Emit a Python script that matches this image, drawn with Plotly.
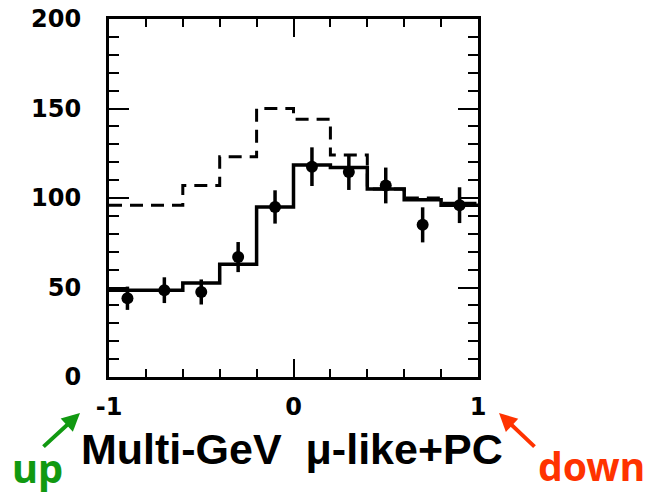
import plotly.graph_objects as go

# Bin edges of cos(zenith)
bin_edges = [-1.0, -0.8, -0.6, -0.4, -0.2, 0.0, 0.2, 0.4, 0.6, 0.8, 1.0]
bin_centers = [-0.9, -0.7, -0.5, -0.3, -0.1, 0.1, 0.3, 0.5, 0.7, 0.9]

# MC without oscillation (dashed)
mc_no_osc = [96, 96, 107, 123, 150, 144, 124, 105, 100, 97]
# MC with oscillation (solid)
mc_osc = [48.5, 48.5, 52.5, 63, 95, 118.5, 117, 105, 99, 96]
# Data points with statistical errors
data_vals = [44, 48.5, 47.5, 67, 95, 117.5, 114.5, 107, 85, 96]
data_errs = [6.5, 7.2, 7, 8.4, 9.3, 10.8, 10, 10, 9.8, 10]

x_ticks = [-1, 0, 1]
x_tick_labels = ["-1", "0", "1"]
y_ticks = [0, 50, 100, 150, 200]
y_tick_labels = ["0", "50", "100", "150", "200"]

fig = go.Figure()

fig.add_trace(go.Scatter(
    x=bin_edges, y=mc_no_osc + [mc_no_osc[-1]],
    mode="lines", line=dict(shape="hv", color="black", width=3, dash="13px,8px"),
    showlegend=False, hoverinfo="skip"))

fig.add_trace(go.Scatter(
    x=bin_edges, y=mc_osc + [mc_osc[-1]],
    mode="lines", line=dict(shape="hv", color="black", width=3.5),
    showlegend=False, hoverinfo="skip"))

fig.add_trace(go.Scatter(
    x=bin_centers, y=data_vals,
    mode="markers",
    marker=dict(color="black", size=12, symbol="circle"),
    error_y=dict(type="data", array=data_errs, visible=True, color="black",
                 thickness=3.5, width=0),
    showlegend=False))

fig.update_layout(
    width=647, height=495,
    margin=dict(l=109, r=169, t=19, b=118),
    paper_bgcolor="white", plot_bgcolor="white",
    font=dict(family="Liberation Sans, Arial", color="black"),
)

tick_font = dict(size=24, family="DejaVu Sans", weight="bold", color="black")

fig.update_xaxes(
    range=[-1, 1], automargin=False,
    showgrid=False, zeroline=False,
    showline=True, linecolor="black", linewidth=3, mirror="allticks",
    ticks="inside", ticklen=18, tickwidth=2, tickcolor="black",
    tickmode="array", tickvals=x_ticks, ticktext=x_tick_labels,
    tickfont=tick_font,
    ticklabelstandoff=6,
    minor=dict(ticks="inside", ticklen=8, tickwidth=2, tickcolor="black",
               dtick=0.2, tick0=-1, showgrid=False),
)

fig.update_yaxes(
    range=[0, 200], automargin=False,
    showgrid=False, zeroline=False,
    showline=True, linecolor="black", linewidth=3, mirror="allticks",
    ticks="inside", ticklen=20, tickwidth=2, tickcolor="black",
    tickmode="array", tickvals=y_ticks, ticktext=y_tick_labels,
    tickfont=tick_font,
    ticklabelstandoff=20,
    minor=dict(ticks="inside", ticklen=10, tickwidth=2, tickcolor="black",
               dtick=10, tick0=0, showgrid=False),
)

# x-axis title
fig.add_annotation(
    text="Multi-GeV  \u03bc-like+PC", xref="paper", yref="paper",
    x=0.5, y=0, yanchor="middle", yshift=-72, xshift=-2, showarrow=False,
    font=dict(size=43, family="Liberation Sans, Arial", weight="bold", color="black"))

# up / down labels with arrows
fig.add_annotation(
    text="up", xref="paper", yref="paper", x=0, y=0,
    xanchor="left", yanchor="middle", xshift=-99, yshift=-90, showarrow=False,
    font=dict(size=40, family="Noto Sans", weight="bold", color="#119911"))
fig.add_annotation(
    x=0, y=0, xref="paper", yref="paper", xshift=-29, yshift=-36,
    ax=-38, ay=35, axref="pixel", ayref="pixel",
    showarrow=True, arrowhead=2, arrowsize=0.9, arrowwidth=4, arrowcolor="#119911", text="")

fig.add_annotation(
    text="down", xref="paper", yref="paper", x=1, y=0,
    xanchor="left", yanchor="middle", xshift=58, yshift=-88, showarrow=False,
    font=dict(size=39, family="Noto Sans", weight="bold", color="#ff3300"))
fig.add_annotation(
    x=1, y=0, xref="paper", yref="paper", xshift=21, yshift=-36,
    ax=37, ay=35, axref="pixel", ayref="pixel",
    showarrow=True, arrowhead=2, arrowsize=0.9, arrowwidth=4, arrowcolor="#ff3300", text="")

fig.write_html("out.html", config={"displayModeBar": False},
               post_script="document.body.style.margin='0';")
